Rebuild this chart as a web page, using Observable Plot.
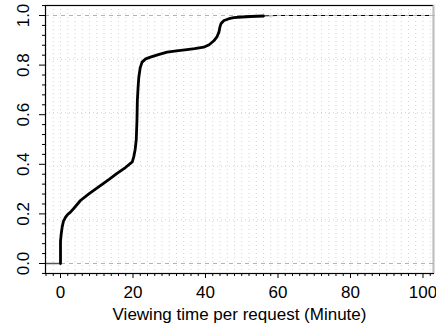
<!DOCTYPE html>
<html>
<head>
<meta charset="utf-8">
<script src="https://cdn.jsdelivr.net/npm/d3@7"></script>
<script src="https://cdn.jsdelivr.net/npm/@observablehq/plot@0.6"></script>
<style>
  html, body { margin: 0; padding: 0; background: #fff; }
  #chart svg { display: block; }
</style>
</head>
<body>
<div id="chart"></div>
<script>
// ECDF of viewing time per request (minutes)
const minutes = [0, 0, 0.2, 0.45, 0.8, 1.4, 2, 2.75, 4, 5.5, 8, 11, 13.5, 15.5, 18, 19.8,
  20.2, 20.6, 20.9, 21.1, 21.2, 21.4, 21.6, 22, 22.5, 23.5, 24.8, 27, 29.4, 32, 34.9,
  37, 39.5, 41, 42.3, 43.2, 43.7, 44, 44.3, 45.1, 46.5, 47.8, 50, 52.4, 56];
const cdf = [0, 0.09, 0.12, 0.146, 0.17, 0.187, 0.198, 0.207, 0.228, 0.254, 0.283, 0.314, 0.34, 0.362, 0.388, 0.41,
  0.43, 0.46, 0.5, 0.58, 0.657, 0.71, 0.751, 0.79, 0.812, 0.825, 0.832, 0.842, 0.852, 0.857, 0.862,
  0.866, 0.872, 0.882, 0.898, 0.915, 0.933, 0.955, 0.968, 0.98, 0.987, 0.991, 0.994, 0.996, 0.998];
// horizontal extensions of the ECDF to the plot edges
const leftTailX = [-4.2, 0];
const leftTailY = [0, 0];
const rightTailX = [52, 60, 103];
const rightTailY = [0.997, 1, 1];

const xDomain = [-4.14, 102.9];
const yDomain = [-0.0403, 1.0403];
const xMajor = [0, 20, 40, 60, 80, 100];
const xMinor = [-4, -2, 2, 4, 6, 8, 10, 12, 14, 16, 18, 22, 24, 26, 28, 30, 32, 34, 36, 38,
  42, 44, 46, 48, 50, 52, 54, 56, 58, 62, 64, 66, 68, 70, 72, 74, 76, 78,
  82, 84, 86, 88, 90, 92, 94, 96, 98, 102];
const yMajor = [0, 0.2, 0.4, 0.6, 0.8, 1.0];
const yMinor = [-0.04, 0.04, 0.08, 0.12, 0.16, 0.24, 0.28, 0.32, 0.36, 0.44, 0.48, 0.52, 0.56,
  0.64, 0.68, 0.72, 0.76, 0.84, 0.88, 0.92, 0.96, 1.04];
const gridXs = [-4, -2, 0, 2, 4, 6, 8, 10, 12, 14, 16, 18, 20, 22, 24, 26, 28, 30, 32, 34, 36, 38,
  40, 42, 44, 46, 48, 50, 52, 54, 56, 58, 60, 62, 64, 66, 68, 70, 72, 74, 76, 78,
  80, 82, 84, 86, 88, 90, 92, 94, 96, 98, 100, 102];
const gridYs = [0.176, 0.392, 0.608, 0.824];
const refLines = [0, 1];
const xTitle = "Viewing time per request (Minute)";

const curve = minutes.map((m, i) => ({x: m, y: cdf[i]}));
const leftTail = leftTailX.map((m, i) => ({x: m, y: leftTailY[i]}));
const rightTail = rightTailX.map((m, i) => ({x: m, y: rightTailY[i]}));

const font = "'Liberation Sans', Arial, Helvetica, sans-serif";

const chart = Plot.plot({
  width: 436,
  height: 329,
  marginLeft: 45,
  marginRight: 3,
  marginTop: 5,
  marginBottom: 56,
  style: {fontFamily: font, background: "#fff", color: "#000"},
  x: {domain: xDomain, label: null, axis: null},
  y: {domain: yDomain, label: null, axis: null},
  marks: [
    Plot.gridX(gridXs, {stroke: "#d3d3d3", strokeOpacity: 1, strokeDasharray: "1,3"}),
    Plot.gridY(gridYs, {stroke: "#d3d3d3", strokeOpacity: 1, strokeDasharray: "1,3"}),
    Plot.line(rightTail, {x: "x", y: "y", stroke: "#000", strokeWidth: 1}),
    Plot.ruleY(refLines, {stroke: "#b3b3b3", strokeDasharray: "4,4", strokeWidth: 1.2}),
    Plot.line(leftTail, {x: "x", y: "y", stroke: "#555", strokeWidth: 1.5}),
    Plot.line(curve, {x: "x", y: "y", stroke: "#000", strokeWidth: 2.8, strokeLinejoin: "round"}),
    Plot.frame({stroke: "#000", strokeWidth: 1.2}),
    Plot.ruleX([xDomain[1]], {stroke: "#bdbdbd", strokeWidth: 1.6}),
    Plot.axisX(xMajor, {anchor: "bottom", tickSize: 5, tickPadding: 7, fontSize: 17, label: null, tickFormat: d => String(d)}),
    Plot.axisX(xMinor, {anchor: "bottom", tickSize: 3, label: null, tickFormat: () => ""}),
    Plot.axisY(yMajor, {anchor: "left", tickSize: 6, label: null, tickFormat: () => ""}),
    Plot.axisY(yMinor, {anchor: "left", tickSize: 3, label: null, tickFormat: () => ""}),
    Plot.text(yMajor, {y: d => d, text: d => d.toFixed(1), frameAnchor: "left", dx: -22, rotate: -90, fontSize: 17, lineAnchor: "middle", textAnchor: "middle", fill: "#000"}),
    Plot.text([xTitle], {text: d => d, frameAnchor: "bottom", dy: 41, fontSize: 17, lineAnchor: "middle", fill: "#000"})
  ]
});
document.getElementById("chart").appendChild(chart);
</script>
</body>
</html>
